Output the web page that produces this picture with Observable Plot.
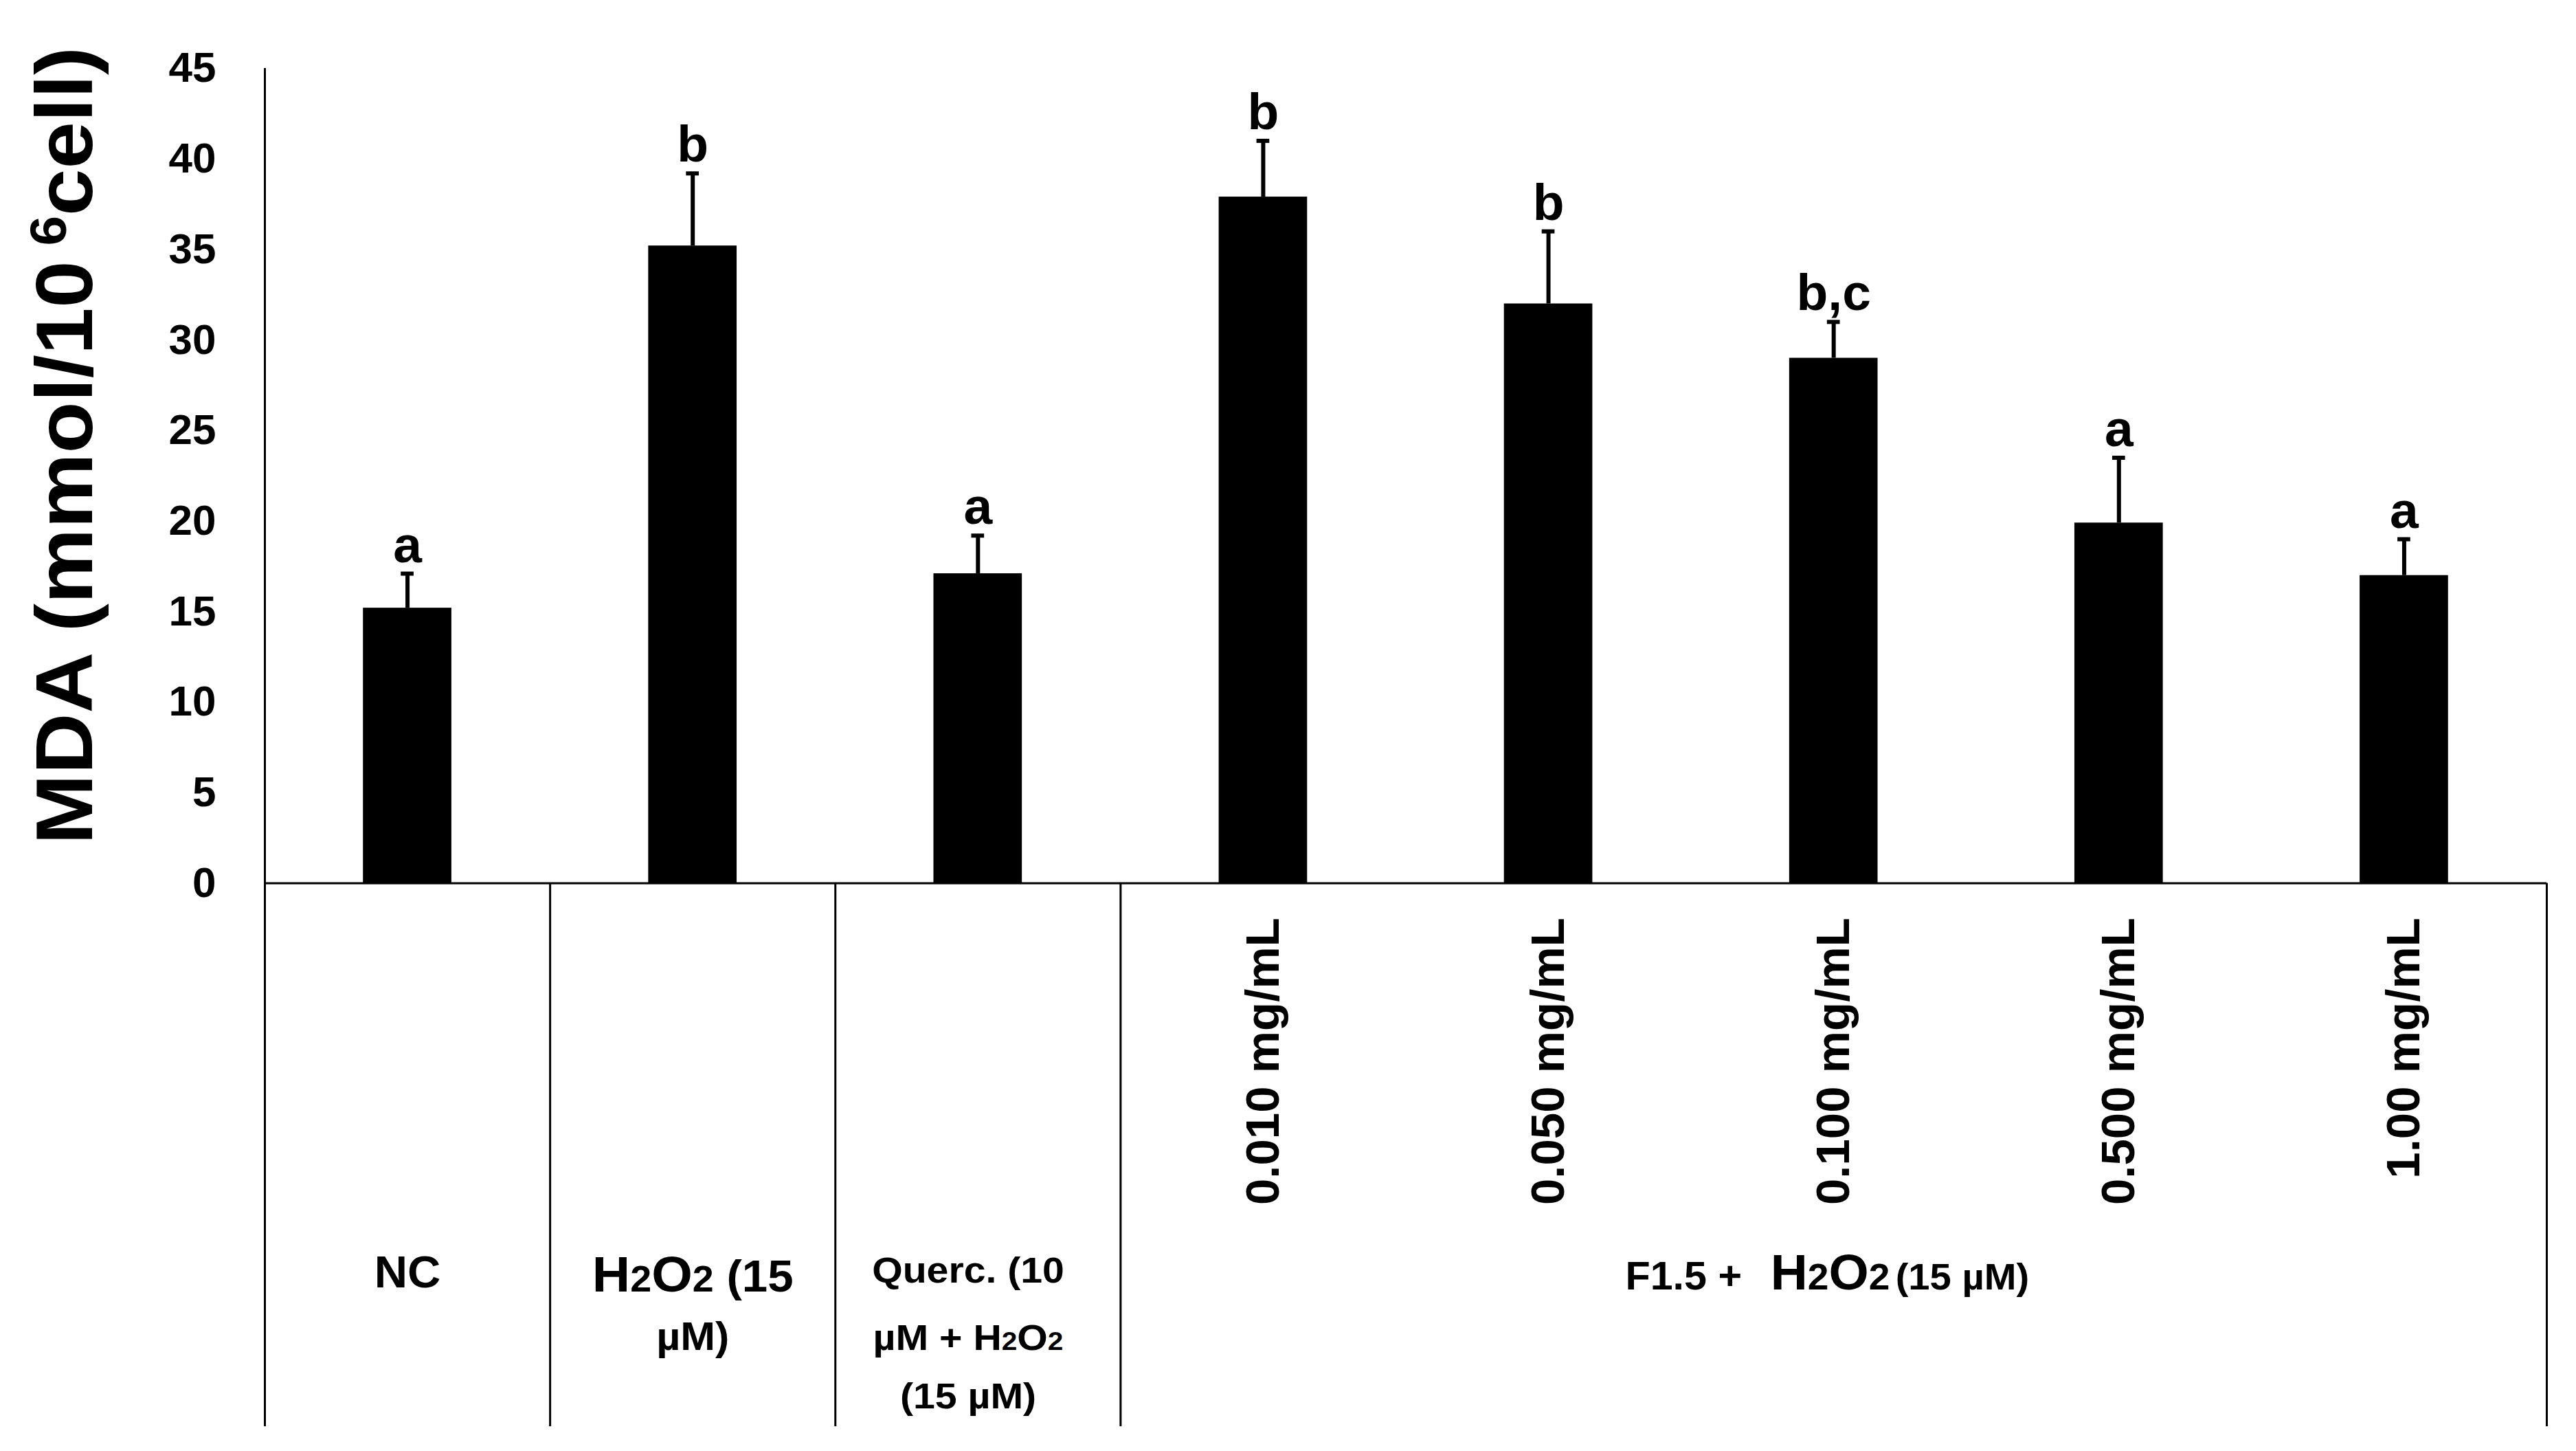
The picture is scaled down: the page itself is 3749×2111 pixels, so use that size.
<!DOCTYPE html>
<html>
<head>
<meta charset="utf-8">
<script src="https://cdn.jsdelivr.net/npm/d3@7"></script>
<script src="https://cdn.jsdelivr.net/npm/@observablehq/plot@0.6"></script>
<style>
  html, body { margin: 0; padding: 0; background: #fff; }
  svg { display: block; }
</style>
</head>
<body>
<div id="chart"></div>
<script>
// ---------------- data ----------------
const categories = ["NC", "H2O2", "Querc", "0.010", "0.050", "0.100", "0.500", "1.00"];
const mdaValues  = [15.2, 35.2, 17.1, 37.9, 32.0, 29.0, 19.9, 17.0];
const mdaErrors  = [1.9, 4.0, 2.1, 3.1, 4.0, 2.0, 3.6, 2.0];
const sigLetters = ["a", "b", "a", "b", "b", "b,c", "a", "a"];
const concLabels = ["", "", "", "0.010 mg/mL", "0.050 mg/mL", "0.100 mg/mL", "0.500 mg/mL", "1.00 mg/mL"];
const yTicks = [0, 5, 10, 15, 20, 25, 30, 35, 40, 45];
const yTitle = "MDA (mmol/10 6cell)";
const groupLabel = "F1.5 + H2O2 (15 µM)";
const groupStarts = ["NC", "H2O2", "Querc", "0.010"];
const lastCategory = "1.00";
const groupCenterCategory = "0.100";

// rich-text segments: [text, role]
const catLabelLines = {
  "NC":    [[["NC", "nc"]]],
  "H2O2":  [[["H", "hBig"], ["2", "hSub"], ["O", "hBig"], ["2", "hSub"], [" (15", "hMid"]],
            [["µM)", "hSmall"]]],
  "Querc": [[["Querc. (10", "q"]],
            [["µM + H", "q"], ["2", "qSub"], ["O", "q"], ["2", "qSub"]],
            [["(15 µM)", "q"]]]
};
const groupLabelLines = [[["F1.5 +", "gMain"], ["H", "gH"], ["2", "gSub"], ["O", "gO"], ["2", "gSub"], ["(15 µM)", "gSmall"]]];
const titleLines = [[["MDA (mmol/10", "t"], [" 6", "tSup"], ["cell)", "tAfter"]]];

// ---------------- styles ----------------
const FONT = "'Liberation Sans', Arial, Helvetica, sans-serif";
const roleStyle = {
  nc: {size: 65},
  hBig: {size: 73}, hSub: {size: 53}, hMid: {size: 64}, hSmall: {size: 58},
  q: {size: 52}, qSub: {size: 37},
  gMain: {size: 57}, gH: {size: 72, dx: 40}, gO: {size: 72}, gSub: {size: 53}, gSmall: {size: 54, dx: 8},
  t: {size: 116}, tSup: {size: 74, dy: -38}, tAfter: {size: 116, dy: 38}
};
const labelLayout = {
  "NC":    {base: 588, dx: 0,   offsets: [0],          sx: 1.03},
  "H2O2":  {base: 594, dx: 0,   offsets: [0, 85],      sx: 1.05},
  "Querc": {base: 581, dx: -13, offsets: [0, 98, 183], sx: 1.1}
};

const W = 3749, H = 2111;
const mL = 385, mR = 43, mT = 99, mB = 826.4;
const step = (W - mL - mR) / categories.length;

const rows = categories.map((c, i) => ({
  cat: c, value: mdaValues[i], err: mdaErrors[i], letter: sigLetters[i], conc: concLabels[i],
  plain: c
}));

const plot = Plot.plot({
  width: W, height: H,
  marginLeft: mL, marginRight: mR, marginTop: mT, marginBottom: mB,
  style: {fontFamily: FONT, fontWeight: "bold", background: "#fff", color: "#000"},
  x: {type: "band", domain: categories, paddingInner: 0.69, paddingOuter: 0.345, round: false, axis: null},
  y: {domain: [0, 45], axis: null},
  marks: [
    Plot.barY(rows, {x: "cat", y: "value", fill: "#000"}),
    Plot.ruleX(rows, {x: "cat", y1: "value", y2: d => d.value + d.err, stroke: "#000", strokeWidth: 6}),
    Plot.tickY(rows, {x: "cat", y: d => d.value + d.err, stroke: "#000", strokeWidth: 6, insetLeft: 55, insetRight: 55}),
    Plot.text(rows, {x: "cat", y: d => d.value + d.err, text: "letter", dy: -17, lineAnchor: "bottom",
      fontSize: 75, fontWeight: "bold", fontFamily: FONT, fill: "#000"}),
    // axes & frame lines
    Plot.ruleY([0], {stroke: "#000", strokeWidth: 3}),
    Plot.ruleX(groupStarts, {x: d => d, y1: () => -30, y2: d => d === categories[0] ? 45 : 0,
      dx: -step / 2, stroke: "#000", strokeWidth: 3}),
    Plot.ruleX([lastCategory], {x: d => d, y1: () => -30, y2: () => 0, dx: step / 2, stroke: "#000", strokeWidth: 3}),
    Plot.axisY({ticks: yTicks, tickSize: 0, tickPadding: 71, fontSize: 62, fontWeight: "bold", fontFamily: FONT, label: null}),
    // rotated concentration labels
    Plot.text(rows.filter(d => d.conc), {x: "cat", y: () => 0, text: "conc", rotate: -90, textAnchor: "end",
      lineAnchor: "middle", dy: 50, fontSize: 69, fontWeight: "bold", fontFamily: FONT, fill: "#000"}),
    // category labels (rewritten to rich text below)
    Plot.text(rows.filter(d => catLabelLines[d.cat]), {x: "cat", y: () => 0, text: "plain", lineAnchor: "bottom",
      textAnchor: "middle", fontSize: 60, fontWeight: "bold", fontFamily: FONT, fill: "#000"}),
    Plot.text([groupLabel], {x: () => groupCenterCategory, y: () => 0, text: d => d, lineAnchor: "bottom",
      textAnchor: "middle", fontSize: 60, fontWeight: "bold", fontFamily: FONT, fill: "#000"}),
    Plot.text([yTitle], {frameAnchor: "left", text: d => d, rotate: -90, dx: -252, dy: -44, lineAnchor: "bottom",
      textAnchor: "middle", fontSize: 116, fontWeight: "bold", fontFamily: FONT, fill: "#000"})
  ]
});

// ---------------- rich text rewrite ----------------
const NS = "http://www.w3.org/2000/svg";
function setRich(el, lines, cfg) {
  const ax = el.getAttribute("x");
  const ay = el.getAttribute("y");
  let tf = el.getAttribute("transform") || "";
  const px = ax !== null && !/em$/.test(ax) ? parseFloat(ax) || 0 : 0;
  const py = ay !== null && !/em$/.test(ay) ? parseFloat(ay) || 0 : 0;
  if (px || py) tf += ` translate(${px},${py})`;
  el.removeAttribute("x");
  el.removeAttribute("y");
  el.removeAttribute("font-size");
  el.setAttribute("text-anchor", "middle");
  while (el.firstChild) el.removeChild(el.firstChild);
  lines.forEach((line, j) => {
    const lt = document.createElementNS(NS, "tspan");
    lt.setAttribute("x", cfg.dx || 0);
    lt.setAttribute("y", (cfg.base || 0) + (cfg.offsets ? cfg.offsets[j] || 0 : 0));
    for (const [t, role] of line) {
      const st = roleStyle[role];
      const s = document.createElementNS(NS, "tspan");
      s.setAttribute("font-size", st.size);
      if (st.dx) s.setAttribute("dx", st.dx);
      if (st.dy) s.setAttribute("dy", st.dy);
      s.textContent = t;
      lt.appendChild(s);
    }
    el.appendChild(lt);
  });
  if (cfg.sx) tf += ` scale(${cfg.sx},1)`;
  el.setAttribute("transform", tf.trim());
}

const richTargets = new Map();
for (const c of Object.keys(catLabelLines)) richTargets.set(c, [catLabelLines[c], labelLayout[c]]);
richTargets.set(groupLabel, [groupLabelLines, {base: 591, dx: -9, offsets: [0], sx: 1.04}]);
richTargets.set(yTitle, [titleLines, {base: 0, dx: 0, offsets: [0], sx: 1.06}]);

plot.querySelectorAll("text").forEach(el => {
  const key = el.textContent;
  if (richTargets.has(key)) {
    const [lines, cfg] = richTargets.get(key);
    setRich(el, lines, cfg);
  }
});

document.getElementById("chart").appendChild(plot);
</script>
</body>
</html>
